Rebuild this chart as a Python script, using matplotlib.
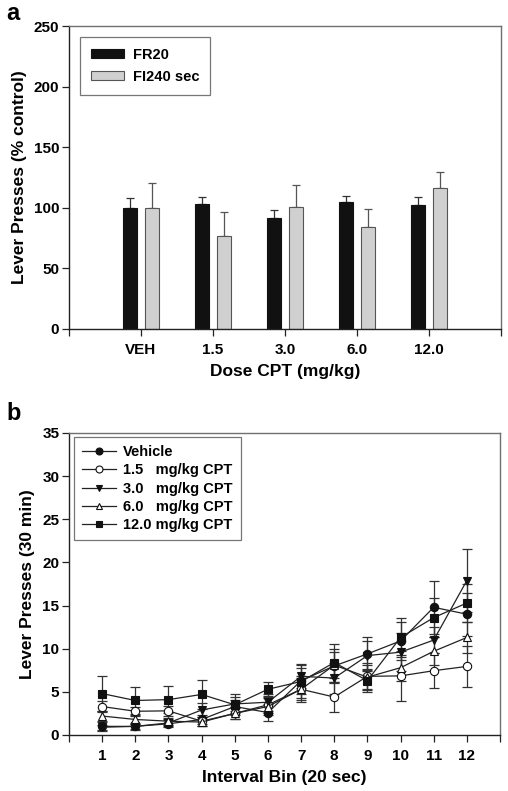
import numpy as np
import matplotlib
matplotlib.use("Agg")
import matplotlib.pyplot as plt
from matplotlib.lines import Line2D

plt.rcParams['font.family'] = ['Liberation Sans', 'DejaVu Sans']
plt.rcParams['font.weight'] = 'bold'

# ---------------------------------------------------------------------------
# Panel a: lever presses (% control) by dose
# ---------------------------------------------------------------------------
doses = ['VEH', '1.5', '3.0', '6.0', '12.0']
fr20_mean = [100, 103, 91.5, 104.8, 102.3]
fr20_err = [8, 6, 6.5, 4.7, 6.7]
fi240_mean = [100, 76.7, 101, 84, 116]
fi240_err = [20.5, 19.8, 17.5, 15, 13.5]

# ---------------------------------------------------------------------------
# Panel b: lever presses across 20-sec interval bins
# ---------------------------------------------------------------------------
bins = list(range(1, 13))
series_labels = ['Vehicle', '1.5   mg/kg CPT', '3.0   mg/kg CPT',
                 '6.0   mg/kg CPT', '12.0 mg/kg CPT']
veh = [1.0, 1.0, 1.3, 1.8, 3.3, 2.6, 6.3, 8.0, 9.4, 10.9, 14.8, 14.0]
veh_err = [0.5, 0.4, 0.4, 0.5, 0.8, 1.0, 1.5, 2.0, 2.0, 2.2, 3.1, 2.5]
cpt15 = [3.3, 2.75, 2.8, 1.6, 2.5, 3.5, 5.3, 4.4, 6.8, 6.85, 7.45, 7.95]
cpt15_err = [0.6, 0.5, 0.6, 0.5, 0.7, 1.0, 1.5, 1.7, 1.6, 2.9, 2.0, 2.4]
cpt30 = [0.9, 1.0, 1.4, 2.9, 3.6, 3.8, 6.8, 6.6, 9.2, 9.6, 11.0, 17.9]
cpt30_err = [0.3, 0.3, 0.4, 0.8, 0.8, 1.0, 1.4, 1.8, 1.7, 2.2, 1.5, 3.7]
cpt60 = [2.2, 1.8, 1.6, 1.5, 2.5, 3.3, 5.3, 8.1, 6.7, 7.8, 9.7, 11.3]
cpt60_err = [0.6, 0.5, 0.4, 0.4, 0.6, 1.0, 1.3, 1.5, 1.4, 1.5, 1.6, 1.8]
cpt120 = [4.8, 4.0, 4.1, 4.7, 3.5, 5.3, 6.2, 8.4, 6.3, 11.3, 13.6, 15.3]
cpt120_err = [2.0, 1.6, 1.6, 1.7, 1.2, 0.9, 1.9, 2.2, 1.3, 2.3, 2.3, 2.2]

fig = plt.figure(figsize=(5.08, 7.91), dpi=100)
ax1 = fig.add_axes([69 / 508, 1 - 329 / 791, 432 / 508, 303 / 791])
ax2 = fig.add_axes([69 / 508, 1 - 735 / 791, 431 / 508, 302 / 791])


def style_axes(ax):
    for side in ('top', 'right'):
        ax.spines[side].set_color('#707070')
        ax.spines[side].set_linewidth(1.0)
    for side in ('left', 'bottom'):
        ax.spines[side].set_color('#222222')
        ax.spines[side].set_linewidth(1.0)
    ax.tick_params(direction='out', length=5, width=0.9, color='#222222',
                   labelsize=11, pad=2)
    for lbl in ax.get_xticklabels() + ax.get_yticklabels():
        lbl.set_fontweight('bold')


# ---- panel a ----
x = np.arange(1, len(doses) + 1)
w = 0.19
off = 0.15
ax1.bar(x - off, fr20_mean, w, color='#111111', edgecolor='#111111',
        linewidth=0.8, label='FR20', zorder=2)
ax1.bar(x + off, fi240_mean, w, color='#d0d0d0', edgecolor='#555555',
        linewidth=0.8, label='FI240 sec', zorder=2)
ax1.errorbar(x - off, fr20_mean, yerr=[np.zeros(5), fr20_err], fmt='none',
             ecolor='#333333', elinewidth=0.9, capsize=3, capthick=0.9, zorder=1)
ax1.errorbar(x + off, fi240_mean, yerr=[np.zeros(5), fi240_err], fmt='none',
             ecolor='#555555', elinewidth=0.9, capsize=3, capthick=0.9, zorder=1)
ax1.set_xlim(0, 6)
ax1.set_ylim(0, 250)
ax1.set_yticks(range(0, 251, 50))
ax1.set_xticks([0] + list(x) + [6])
ax1.set_xticklabels([''] + doses + [''])
ax1.set_xlabel('Dose CPT (mg/kg)', fontsize=12.5, fontweight='bold', labelpad=5)
ax1.set_ylabel('Lever Presses (% control)', fontsize=12.5, fontweight='bold',
               labelpad=5)
style_axes(ax1)
ax1.tick_params(axis='y', right=False)
ax1.tick_params(axis='x', pad=5)
leg1 = ax1.legend(loc='upper left', bbox_to_anchor=(0.025, 0.964),
                  borderaxespad=0, fontsize=10.5, frameon=True, fancybox=False,
                  edgecolor='#555555', handlelength=2.3, handleheight=0.6,
                  borderpad=0.75, labelspacing=0.55, handletextpad=0.6)
leg1.get_frame().set_linewidth(0.9)
for t in leg1.get_texts():
    t.set_fontweight('bold')

# ---- panel b ----
specs = [
    (veh, veh_err, 'o', '#111111'),
    (cpt15, cpt15_err, 'o', 'white'),
    (cpt30, cpt30_err, 'v', '#111111'),
    (cpt60, cpt60_err, '^', 'white'),
    (cpt120, cpt120_err, 's', '#111111'),
]
handles = []
for (vals, errs, mk, fc), lab in zip(specs, series_labels):
    ax2.errorbar(bins, vals, yerr=errs, fmt='none', ecolor='#333333',
                 elinewidth=0.9, capsize=3.5, capthick=0.9, zorder=1)
    ax2.plot(bins, vals, '-', color='#222222', lw=0.9, marker=mk, ms=6,
             mfc=fc, mec='#111111', mew=0.8, zorder=3)
    handles.append(Line2D([], [], color='#222222', lw=0.9, marker=mk, ms=5,
                          mfc=fc, mec='#111111', mew=0.8, label=lab))
ax2.set_xlim(0, 13)
ax2.set_ylim(0, 35)
ax2.set_yticks(range(0, 36, 5))
ax2.set_xticks([0] + bins + [13])
ax2.set_xticklabels([''] + [str(b) for b in bins] + [''])
ax2.set_xlabel('Interval Bin (20 sec)', fontsize=12.5, fontweight='bold',
               labelpad=5)
ax2.set_ylabel('Lever Presses (30 min)', fontsize=12.5, fontweight='bold',
               labelpad=5)
style_axes(ax2)
ax2.tick_params(axis='x', pad=5)
leg2 = ax2.legend(handles=handles, loc='upper left',
                  bbox_to_anchor=(0.012, 0.987), borderaxespad=0,
                  fontsize=10.5, frameon=True, fancybox=False,
                  edgecolor='#555555', handlelength=2.3, borderpad=0.55,
                  labelspacing=0.3, handletextpad=0.5)
leg2.get_frame().set_linewidth(0.9)
for t in leg2.get_texts():
    t.set_fontweight('bold')

fig.text(0.012, 0.997, 'a', fontsize=17, fontweight='bold', va='top')
fig.text(0.012, 0.492, 'b', fontsize=17, fontweight='bold', va='top')

fig.savefig('out.png', dpi=100)
